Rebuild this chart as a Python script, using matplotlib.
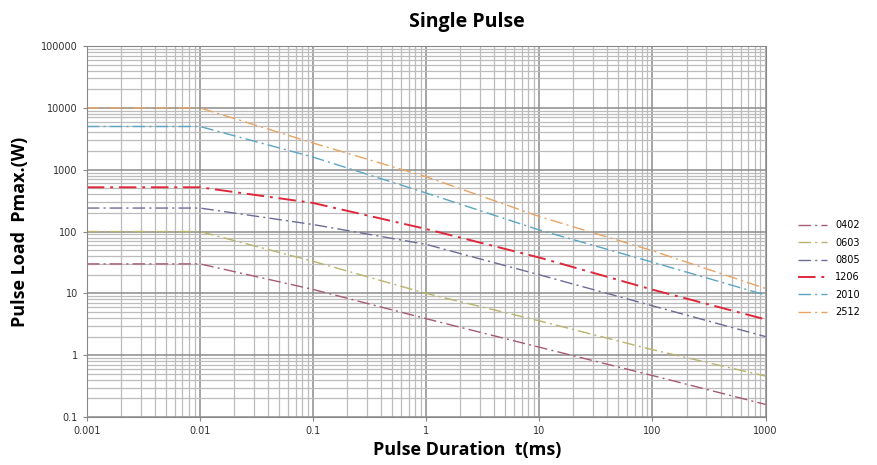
import numpy as np
import matplotlib
matplotlib.use('Agg')
import matplotlib.pyplot as plt
from matplotlib.ticker import FuncFormatter, LogLocator, NullFormatter

# Pulse duration (ms) and max pulse load (W)
duration = [0.001, 0.01, 0.1, 1, 10, 100, 1000]
sizes = ['0402', '0603', '0805', '1206', '2010', '2512']
load_0402 = [30, 30, 11.6, 3.9, 1.35, 0.47, 0.16]
load_0603 = [100, 100, 33, 10, 3.6, 1.23, 0.46]
load_0805 = [240, 240, 130, 62, 20, 6.3, 2.0]
load_1206 = [520, 520, 290, 110, 38, 11.5, 3.8]
load_2010 = [5000, 5000, 1600, 420, 106, 32, 9.4]
load_2512 = [10000, 10000, 2700, 770, 175, 49, 12]

loads = [load_0402, load_0603, load_0805, load_1206, load_2010, load_2512]
colors = ['#a85a74', '#b8b46c', '#6c6c98', '#e0283c', '#5aa6c4', '#e8a464']
widths = [1.0, 1.0, 1.0, 1.4, 1.0, 1.0]

fig = plt.figure(figsize=(8.77, 4.65), dpi=100)
ax = fig.add_axes([0.099, 0.103, 0.774, 0.798])

for name, y, c, w in zip(sizes, loads, colors, widths):
    ax.plot(duration, y, color=c, lw=w, dashes=(9, 3, 1.5, 3), label=name)

ax.set_xscale('log')
ax.set_yscale('log')
ax.set_xlim(0.001, 1000)
ax.set_ylim(0.1, 100000)

fmt = FuncFormatter(lambda v, p: '%g' % v)
ax.xaxis.set_major_formatter(fmt)
ax.yaxis.set_major_formatter(fmt)
ax.xaxis.set_minor_locator(LogLocator(base=10, subs=np.arange(2, 10), numticks=20))
ax.yaxis.set_minor_locator(LogLocator(base=10, subs=np.arange(2, 10), numticks=20))
ax.xaxis.set_minor_formatter(NullFormatter())
ax.yaxis.set_minor_formatter(NullFormatter())

ax.grid(True, which='major', color='#8c8c8c', lw=1.1)
ax.grid(True, which='minor', color='#bcbcbc', lw=0.9)
ax.set_axisbelow(True)
ax.tick_params(which='both', length=3, color='#888888', labelsize=7, labelcolor='#333333')
ax.tick_params(which='minor', length=0)
for s in ax.spines.values():
    s.set_color('#888888')

fig.text(0.532, 0.952, 'Single Pulse', ha='center', va='center',
         fontsize=14, fontweight='bold', family='Open Sans')
ax.set_xlabel('Pulse Duration  t(ms)', fontsize=13, fontweight='bold',
              family='Open Sans')
ax.xaxis.set_label_coords(0.56, -0.065)
ax.set_ylabel('Pulse Load  Pmax.(W)', fontsize=13, fontweight='bold',
              family='Open Sans')
ax.yaxis.set_label_coords(-0.085, 0.5)

ax.legend(loc='center left', bbox_to_anchor=(1.035, 0.40), frameon=False,
          fontsize=7, handlelength=3.0, labelspacing=0.75)

fig.savefig('out.png', dpi=100)
